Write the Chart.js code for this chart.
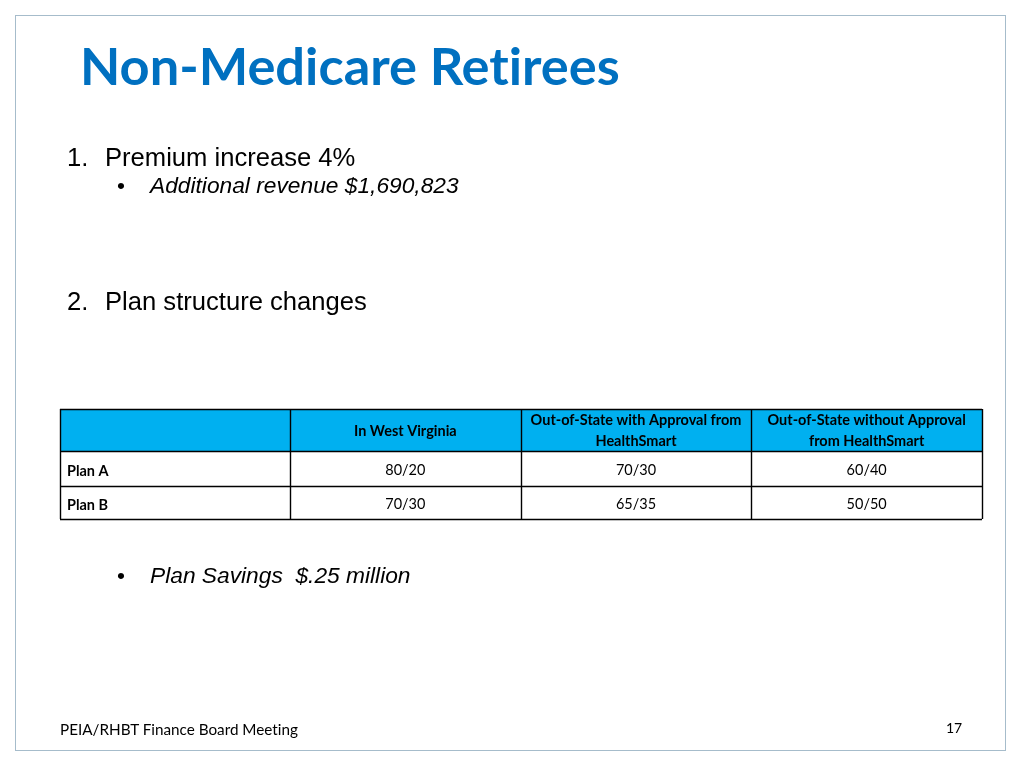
<!DOCTYPE html>
<html>
<head>
<meta charset="utf-8">
<title>Non-Medicare Retirees</title>
<script src="https://cdn.jsdelivr.net/npm/chart.js@4.4.1/dist/chart.umd.min.js"></script>
<style>
  html, body { margin: 0; padding: 0; background: #fff; }
  #slide { position: relative; width: 1024px; height: 768px; overflow: hidden; }
  #frame { position: absolute; left: 15px; top: 15px; width: 991px; height: 736px;
           border: 1.5px solid #a6bccb; box-sizing: border-box; }
  #table-chart { position: absolute; left: 0; top: 0; }
  .txt { position: absolute; left: 0; top: 0; white-space: pre; line-height: 1.2; color: #000;
         font-variant-ligatures: none; font-feature-settings: "liga" 0; }
  .arial { font-family: "Liberation Sans", Arial, sans-serif; }
  .cal { font-family: Lato, "Open Sans", sans-serif; }
</style>
</head>
<body>
<div id="slide">
  <div id="frame"></div>
  <canvas id="table-chart" width="1024" height="768"></canvas>

  <div class="txt cal" data-x="80" data-base="85" data-w="540"
       style="font-size:50px;font-weight:bold;color:#0070c0;">Non-Medicare Retirees</div>

  <div class="txt arial" data-x="67" data-base="166" style="font-size:25.6px;">1.</div>
  <div class="txt arial" data-x="105" data-base="166" style="font-size:25.6px;">Premium increase 4%</div>
  <div class="txt arial" data-x="117" data-base="193" style="font-size:22.75px;">•</div>
  <div class="txt arial" data-x="150" data-base="193" style="font-size:22.75px;font-style:italic;">Additional revenue $1,690,823</div>

  <div class="txt arial" data-x="67" data-base="310" style="font-size:25.6px;">2.</div>
  <div class="txt arial" data-x="105" data-base="310" style="font-size:25.6px;">Plan structure changes</div>

  <div class="txt arial" data-x="117" data-base="583" style="font-size:22.75px;">•</div>
  <div class="txt arial" data-x="150" data-base="583" style="font-size:22.75px;font-style:italic;">Plan Savings  $.25 million</div>

  <div class="txt cal" data-x="60" data-base="735" data-w="238" style="font-size:14px;">PEIA/RHBT Finance Board Meeting</div>
  <div class="txt cal" data-x="946" data-base="733" style="font-size:14px;">17</div>
</div>

<script>
// table data
var columnHeaders = [
	['In West Virginia'],
	['Out-of-State with Approval from', 'HealthSmart'],
	['Out-of-State without Approval', 'from HealthSmart']
];
var plans = ['Plan A', 'Plan B'];
var inWestVirginia = ['80/20', '70/30'];
var withApproval = ['70/30', '65/35'];
var withoutApproval = ['60/40', '50/50'];

var cellValues = [inWestVirginia, withApproval, withoutApproval];

var HEADER_FILL = '#00b0f0';
var CELL_PAD = 7;
var FONT = 'Lato, "Open Sans", sans-serif';

//placing slide texts on their baselines
function placeText(el) {
	var mark = document.createElement('span');
	mark.style.cssText = 'display:inline-block;width:0;height:0;';
	el.appendChild(mark);
	if (el.dataset.w) {
		var fs = parseFloat(el.style.fontSize);
		var w = el.getBoundingClientRect().width;
		el.style.fontSize = (fs * parseFloat(el.dataset.w) / w) + 'px';
	}
	el.style.left = el.dataset.x + 'px';
	el.style.top = '0px';
	var b = mark.getBoundingClientRect().top;
	el.style.top = (parseFloat(el.dataset.base) - b) + 'px';
}
document.querySelectorAll('.txt').forEach(placeText);

//table font size, fitted so the widest header matches the slide
var measureCtx = document.createElement('canvas').getContext('2d');
measureCtx.font = 'bold 14px ' + FONT;
var tableFontSize = 14 * 211 / measureCtx.measureText('Out-of-State with Approval from').width;

var tablePlugin = {
	id: 'planTable',
	beforeDraw: function(chart) {
		var ctx = chart.ctx, x = chart.scales.x, y = chart.scales.y;
		ctx.save();
		ctx.fillStyle = HEADER_FILL;
		ctx.fillRect(y.left - CELL_PAD, x.top, x.right - (y.left - CELL_PAD), chart.chartArea.top - x.top);
		ctx.restore();
	},
	afterDraw: function(chart) {
		var ctx = chart.ctx, area = chart.chartArea, x = chart.scales.x, y = chart.scales.y;
		var left = y.left - CELL_PAD;

		//column and row edges from the scales
		var colEdges = [left, area.left];
		for (var c = 0; c < columnHeaders.length - 1; c++) {
			colEdges.push((x.getPixelForValue(c) + x.getPixelForValue(c + 1)) / 2);
		}
		colEdges.push(area.right);
		var rowEdges = [x.top, area.top];
		for (var r = 0; r < plans.length - 1; r++) {
			rowEdges.push((y.getPixelForValue(r) + y.getPixelForValue(r + 1)) / 2 + 1);
		}
		rowEdges.push(area.bottom);

		ctx.save();
		//header texts
		ctx.fillStyle = '#000';
		ctx.textAlign = 'center';
		ctx.textBaseline = 'middle';
		ctx.font = 'bold ' + tableFontSize + 'px ' + FONT;
		var headMid = (x.top + area.top) / 2;
		var lineH = 21;
		columnHeaders.forEach(function(lines, c) {
			var cx = x.getPixelForValue(c);
			var y0 = headMid + 1 - (lines.length - 1) * lineH / 2;
			lines.forEach(function(line, i) {
				ctx.fillText(line, cx, y0 + i * lineH);
			});
		});

		//cell values
		ctx.font = tableFontSize + 'px ' + FONT;
		cellValues.forEach(function(col, c) {
			col.forEach(function(v, r) {
				ctx.fillText(v, x.getPixelForValue(c), y.getPixelForValue(r) + 2);
			});
		});

		//grid lines
		ctx.strokeStyle = '#000';
		ctx.lineWidth = 1.4;
		ctx.beginPath();
		colEdges.forEach(function(px) {
			ctx.moveTo(Math.round(px) + 0.5, rowEdges[0]);
			ctx.lineTo(Math.round(px) + 0.5, rowEdges[rowEdges.length - 1]);
		});
		rowEdges.forEach(function(py) {
			ctx.moveTo(colEdges[0], Math.round(py) + 0.5);
			ctx.lineTo(colEdges[colEdges.length - 1], Math.round(py) + 0.5);
		});
		ctx.stroke();
		ctx.restore();
	}
};

new Chart(document.getElementById('table-chart').getContext('2d'), {
	type: 'bar',
	data: {
		labels: columnHeaders,
		datasets: []
	},
	options: {
		responsive: false,
		animation: false,
		events: [],
		layout: {
			padding: { left: 60 + CELL_PAD, right: 42, top: 409, bottom: 249 }
		},
		plugins: {
			legend: { display: false },
			tooltip: { enabled: false }
		},
		scales: {
			x: {
				type: 'category',
				position: 'top',
				labels: columnHeaders,
				offset: true,
				grid: { display: false },
				border: { display: false },
				ticks: { display: false },
				afterFit: function(scale) { scale.height = 42; }
			},
			y: {
				type: 'category',
				position: 'left',
				labels: plans,
				offset: true,
				grid: { display: false },
				border: { display: false },
				ticks: {
					crossAlign: 'far',
					labelOffset: 3,
					color: '#000',
					font: { family: FONT, weight: 'bold', size: tableFontSize }
				},
				afterFit: function(scale) { scale.width = 230 - CELL_PAD; }
			}
		}
	},
	plugins: [tablePlugin]
});
</script>
</body>
</html>
